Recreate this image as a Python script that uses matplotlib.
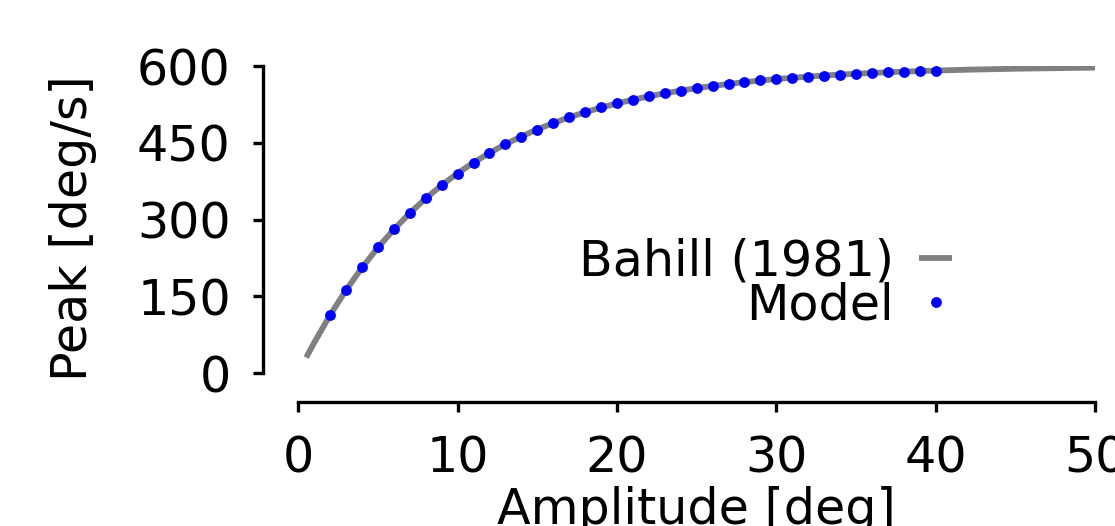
"""Peak saccade velocity versus amplitude: Bahill (1981) main sequence and model points."""
import matplotlib
matplotlib.use("Agg")
import matplotlib.pyplot as plt

# Bahill (1981) curve
bahill_amp = [0.5, 1, 2, 3, 4, 5, 6, 7, 8, 9, 10, 11, 12, 13, 14, 15, 16, 17, 18,
              19, 20, 21, 22, 23, 24, 25, 26, 27, 28, 29, 30, 31, 32, 33, 34, 35,
              36, 37, 38, 39, 40, 42, 45, 50]
bahill_peak = [30.8, 59.9, 113.9, 162.5, 206.2, 245.5, 280.9, 312.8, 341.5, 367.3,
               390.6, 411.5, 430.3, 447.3, 462.5, 476.3, 488.6, 499.8, 509.8, 518.8,
               526.9, 534.2, 540.8, 546.7, 552.0, 556.8, 561.1, 565.0, 568.5, 571.7,
               574.5, 577.0, 579.3, 581.4, 583.3, 584.9, 586.4, 587.8, 589.0, 590.1,
               591.1, 592.8, 594.7, 596.9]

# model points, one per degree from 2 to 40
model_amp = list(range(2, 41))
model_peak = [113, 162, 207, 246, 281, 313, 342, 367, 390, 411, 430, 447, 462, 476,
              489, 500, 510, 519, 527, 534, 541, 547, 552, 557, 561, 565, 568, 572,
              574, 577, 579, 581, 583, 585, 586, 588, 589, 590, 591]

plt.rcParams["font.family"] = "DejaVu Sans"
plt.rcParams["font.size"] = 11.8

fig = plt.figure(figsize=(1115 / 300, 526 / 300), dpi=300)
ax = fig.add_axes([0.2675, 0.2903, 0.9821 - 0.2675, 0.8745 - 0.2903])

ax.plot(bahill_amp, bahill_peak, color="gray", lw=1.4, label="Bahill (1981)",
        solid_capstyle="butt")
ax.plot(model_amp, model_peak, "o", color="blue", ms=2.6, mew=0, label="Model")

ax.set_xlim(0, 50)
ax.set_ylim(0, 600)
ax.set_xticks([0, 10, 20, 30, 40, 50])
ax.set_yticks([0, 150, 300, 450, 600])

for side in ["top", "right"]:
    ax.spines[side].set_visible(False)
ax.spines["left"].set_position(("outward", 8.4))
ax.spines["bottom"].set_position(("outward", 6.8))
for side in ["left", "bottom"]:
    ax.spines[side].set_linewidth(0.8)
ax.tick_params(length=2.3, width=0.8, pad=5.5)

ax.set_xlabel("Amplitude [deg]", labelpad=1)
ax.set_ylabel("Peak [deg/s]")
ax.yaxis.set_label_coords(-0.2527, 0.473)

ax.legend(loc="center right", bbox_to_anchor=(0.8205, 0.292), frameon=False,
          markerfirst=False, numpoints=1, handlelength=0.67, handletextpad=0.52,
          labelspacing=-0.08, borderpad=0, borderaxespad=0)

fig.savefig("out.png", dpi=300)
